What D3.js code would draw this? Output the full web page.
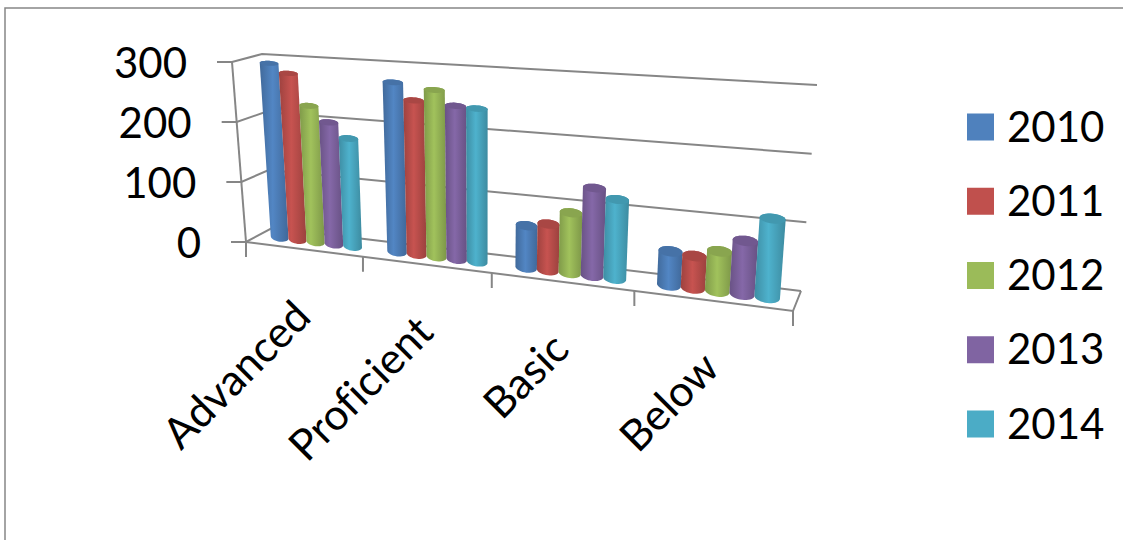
<!DOCTYPE html>
<html>
<head>
<meta charset="utf-8">
<script src="https://cdn.jsdelivr.net/npm/d3@7"></script>
<style>
  body { margin: 0; background: #fff; }
  svg { display: block; }
  text { font-family: Lato, "Open Sans", sans-serif; fill: #000; font-variant-ligatures: none; }
</style>
</head>
<body>
<div id="chart"></div>
<script>
var categories = ['Advanced', 'Proficient', 'Basic', 'Below'];
var years = ['2010', '2011', '2012', '2013', '2014'];
var colors = ['#4F81BD', '#C0504D', '#9BBB59', '#8064A2', '#4BACC6'];
var advanced = [293, 278, 226, 201, 177];
var proficient = [274, 247, 266, 243, 241];
var basic = [65, 71, 92, 133, 119];
var below = [50, 47, 58, 77, 113];
var seriesByCategory = [advanced, proficient, basic, below];
var valueTicks = [0, 100, 200, 300];

var width = 1123, height = 540;

var svg = d3.select('#chart').append('svg')
  .attr('width', width)
  .attr('height', height);

// unit square -> quad, so the floor and the ceiling keep their perspective
function quadMap(p00, p10, p11, p01) {
  var dx1 = p10[0] - p11[0], dx2 = p01[0] - p11[0], sx = p00[0] - p10[0] + p11[0] - p01[0];
  var dy1 = p10[1] - p11[1], dy2 = p01[1] - p11[1], sy = p00[1] - p10[1] + p11[1] - p01[1];
  var det = dx1 * dy2 - dx2 * dy1;
  var g = (sx * dy2 - dx2 * sy) / det;
  var h = (dx1 * sy - sx * dy1) / det;
  var a = p10[0] - p00[0] + g * p10[0], b = p01[0] - p00[0] + h * p01[0];
  var d = p10[1] - p00[1] + g * p10[1], e = p01[1] - p00[1] + h * p01[1];
  return function(u, v) {
    var w = g * u + h * v + 1;
    return [(a * u + b * v + p00[0]) / w, (d * u + e * v + p00[1]) / w];
  };
}

var floorAt = quadMap([246, 242], [793, 311], [801, 291], [272, 228]);
var ceilAt = quadMap([232, 62], [809, 96.4], [817, 85], [262, 54]);

var yScale = d3.scaleLinear().domain([0, 300]).range([0, 1]);
var uScale = d3.scaleBand().domain(categories).range([0, 1]).paddingInner(0.21).paddingOuter(0.105);
var seriesScale = d3.scaleBand().domain(years).range([0, uScale.bandwidth()]);

function project(u, v, value) {
  var f = floorAt(u, v), c = ceilAt(u, v), t = yScale(value);
  return [f[0] + (c[0] - f[0]) * t, f[1] + (c[1] - f[1]) * t];
}

// gradients, dark edges and a lighter middle like the cylinders
var defs = svg.append('defs');
colors.forEach(function(col, i) {
  var g = defs.append('linearGradient').attr('id', 'cyl' + i);
  g.append('stop').attr('offset', '0%').attr('stop-color', d3.color(col).darker(0.55));
  g.append('stop').attr('offset', '45%').attr('stop-color', d3.color(col).brighter(0.1));
  g.append('stop').attr('offset', '100%').attr('stop-color', d3.color(col).darker(0.6));
});

// chart area border
svg.append('path')
  .attr('d', 'M5,540V8H1123')
  .attr('fill', 'none')
  .attr('stroke', '#868686')
  .attr('stroke-width', 1.5);

var lineGen = d3.line();
var grid = svg.append('g').attr('fill', 'none').attr('stroke', '#868686').attr('stroke-width', 2);

valueTicks.forEach(function(t) {
  var front = project(0, 0, t), back = project(0, 1, t), right = project(1, 1, t);
  grid.append('path').attr('d', lineGen([[front[0] - 15, front[1]], front, back, right]));
});

// floor edges and the front vertical
grid.append('path').attr('d', lineGen([project(0, 0, 0), project(1, 0, 0), project(1, 1, 0)]));
grid.append('path').attr('d', lineGen([project(0, 0, 0), project(0, 0, 300)]));

// category ticks
d3.range(categories.length + 1).forEach(function(i) {
  var p = project(i / categories.length, 0, 0);
  grid.append('path').attr('d', lineGen([p, [p[0], p[1] + 15]]));
});

// cylinders
var halfDepth = 0.3;

function ellipsePts(u, du, value) {
  var c = project(u, 0.5, value);
  var r = project(u + du, 0.5, value);
  var ry = Math.abs(project(u, 0.5 + halfDepth, value)[1] - project(u, 0.5 - halfDepth, value)[1]) / 2;
  return d3.range(0, 2 * Math.PI, Math.PI / 18).map(function(a) {
    return [c[0] + (r[0] - c[0]) * Math.cos(a), c[1] + (r[1] - c[1]) * Math.cos(a) + ry * Math.sin(a)];
  });
}

var closedLine = d3.line().curve(d3.curveLinearClosed);
var bars = svg.append('g');

categories.forEach(function(cat, ci) {
  years.forEach(function(yr, si) {
    var value = seriesByCategory[ci][si];
    var du = seriesScale.bandwidth() / 2;
    var u = uScale(cat) + seriesScale(yr) + du;
    var base = ellipsePts(u, du, 0), top = ellipsePts(u, du, value);
    bars.append('path')
      .attr('d', closedLine(d3.polygonHull(base.concat(top))))
      .attr('fill', 'url(#cyl' + si + ')');
    bars.append('path')
      .attr('d', closedLine(top))
      .attr('fill', d3.color(colors[si]).darker(0.35));
  });
});

// value labels
svg.append('g').selectAll('text')
  .data(valueTicks)
  .enter()
  .append('text')
  .attr('x', function(d) { return project(0, 0, d)[0] - 45; })
  .attr('y', function(d) { return project(0, 0, d)[1] + 1.5; })
  .attr('dy', '.35em')
  .attr('text-anchor', 'end')
  .attr('font-size', 42)
  .text(function(d) { return d; });

// category labels, rotated
svg.append('g').selectAll('text')
  .data(categories)
  .enter()
  .append('text')
  .attr('transform', function(d) {
    var p = project(uScale(d) + uScale.bandwidth() / 2, 0, 0);
    return 'translate(' + (p[0] + 10) + ',' + (p[1] + 70) + ') rotate(-45)';
  })
  .attr('text-anchor', 'end')
  .attr('font-size', 43)
  .text(function(d) { return d; });

// legend
var legendY = d3.scalePoint().domain(years).range([127, 424]);
var legend = svg.append('g').selectAll('g')
  .data(years)
  .enter()
  .append('g')
  .attr('transform', function(d) { return 'translate(967,' + legendY(d) + ')'; });
legend.append('rect')
  .attr('y', -13.5)
  .attr('width', 27)
  .attr('height', 27)
  .attr('fill', function(d, i) { return colors[i]; });
legend.append('text')
  .attr('x', 40)
  .attr('dy', '.35em')
  .attr('font-size', 42)
  .text(function(d) { return d; });
</script>
</body>
</html>
